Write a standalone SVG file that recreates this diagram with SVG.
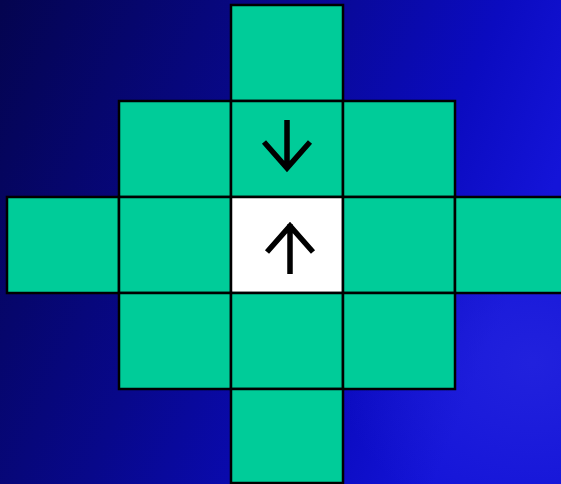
<svg xmlns="http://www.w3.org/2000/svg" width="561" height="484" viewBox="0 0 561 484">
<defs>
<linearGradient id="bg" x1="0" y1="0" x2="1" y2="0.35">
<stop offset="0" stop-color="#04044f"/>
<stop offset="0.45" stop-color="#08088a"/>
<stop offset="0.8" stop-color="#0b0bc0"/>
<stop offset="1" stop-color="#1414d8"/>
</linearGradient>
<radialGradient id="hl" cx="0.95" cy="0.75" r="0.35">
<stop offset="0" stop-color="#2a2ae0" stop-opacity="0.6"/>
<stop offset="1" stop-color="#2a2ae0" stop-opacity="0"/>
</radialGradient>
<style>
.c{fill:#00cc99;stroke:#000;stroke-width:2.5}
.w{fill:#fff;stroke:#000;stroke-width:2.5}
.a{fill:none;stroke:#000;stroke-width:5.5;stroke-linecap:butt;stroke-linejoin:miter}
</style>
</defs>
<rect width="561" height="484" fill="url(#bg)"/>
<rect width="561" height="484" fill="url(#hl)"/>
<g id="r0c2"><rect class="c" x="231" y="5" width="112" height="96"/></g>
<g id="r1c1"><rect class="c" x="119" y="101" width="112" height="96"/></g>
<g id="r1c2"><rect class="c" x="231" y="101" width="112" height="96"/>
<path class="a" d="M287 120V169M264 142L287 168L310 142"/></g>
<g id="r1c3"><rect class="c" x="343" y="101" width="112" height="96"/></g>
<g id="r2c0"><rect class="c" x="7" y="197" width="112" height="96"/></g>
<g id="r2c1"><rect class="c" x="119" y="197" width="112" height="96"/></g>
<g id="r2c2"><rect class="w" x="231" y="197" width="112" height="96"/>
<path class="a" d="M290 274V224M267 252L290 226L313 252"/></g>
<g id="r2c3"><rect class="c" x="343" y="197" width="112" height="96"/></g>
<g id="r2c4"><rect class="c" x="455" y="197" width="112" height="96"/></g>
<g id="r3c1"><rect class="c" x="119" y="293" width="112" height="96"/></g>
<g id="r3c2"><rect class="c" x="231" y="293" width="112" height="96"/></g>
<g id="r3c3"><rect class="c" x="343" y="293" width="112" height="96"/></g>
<g id="r4c2"><rect class="c" x="231" y="389" width="112" height="94"/></g>
<g id="connectors"></g>
</svg>
